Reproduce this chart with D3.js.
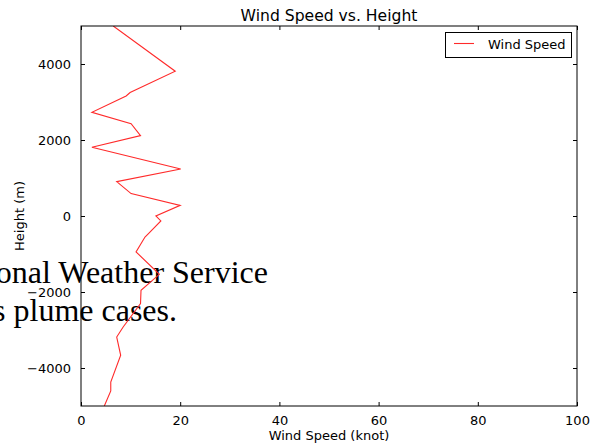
<!DOCTYPE html>
<meta charset="utf-8">
<style>
  body { margin: 0; background: #fff; }
  svg text { font-family: "DejaVu Sans", sans-serif; fill: #000; }
  .note text { font-family: "Liberation Serif", "Times New Roman", serif; font-size: 32px; }
</style>
<svg width="596" height="444"></svg>
<script src="https://d3js.org/d3.v7.min.js"></script>
<script>
  // wind profile
  var windSpeed = [6.5, 19.0, 9.9, 9.1, 2.2, 10.1, 12.0, 2.2, 20.1, 7.2, 10.1, 20.0, 15.1, 16.1, 13.6, 12.9, 11.1, 15.8, 12.1, 12.0, 8.5, 7.2, 8.0, 6.0, 6.0, 4.7];
  var height = [5000, 3810, 3250, 3160, 2730, 2430, 2115, 1810, 1235, 905, 590, 280, 0, -130, -465, -555, -945, -1535, -1955, -2305, -2920, -3185, -3665, -4370, -4605, -5000];
  var xTicks = [0, 20, 40, 60, 80, 100];
  var yTicks = [-4000, -2000, 0, 2000, 4000];
  var noteLines = ["onal Weather Service", "s plume cases."];

  var svg = d3.select("svg");
  var plotL = 81, plotR = 577, plotT = 26, plotB = 406;

  var x = d3.scaleLinear().domain([0, 100]).range([plotL, plotR]);
  var y = d3.scaleLinear().domain([-5000, 5000]).range([plotB, plotT]);

  // stray text that sits behind the chart
  var note = svg.append("g").attr("class", "note");
  note.append("text").attr("x", 268).attr("y", 283).attr("text-anchor", "end").text(noteLines[0]);
  note.append("text").attr("x", 177).attr("y", 321).attr("text-anchor", "end").text(noteLines[1]);

  svg.append("defs").append("clipPath").attr("id", "plot")
    .append("rect").attr("x", plotL).attr("y", plotT).attr("width", plotR - plotL).attr("height", plotB - plotT);

  var line = d3.line()
    .x(function(d, i) { return x(windSpeed[i]); })
    .y(function(d, i) { return y(height[i]); });

  svg.append("path")
    .datum(windSpeed)
    .attr("clip-path", "url(#plot)")
    .attr("fill", "none")
    .attr("stroke", "#ff2a2a")
    .attr("stroke-width", 1.1)
    .attr("d", line);

  // axes, ticks pointing in on all four sides
  function fmt(d) { return d < 0 ? "\u2212" + Math.abs(d) : "" + d; }

  svg.append("g").attr("transform", "translate(0," + plotB + ")")
    .call(d3.axisBottom(x).tickValues(xTicks).tickSize(-4).tickPadding(10).tickFormat(fmt));
  svg.append("g").attr("transform", "translate(0," + plotT + ")")
    .call(d3.axisTop(x).tickValues(xTicks).tickSize(-4).tickFormat(""));
  svg.append("g").attr("transform", "translate(" + plotL + ",0)")
    .call(d3.axisLeft(y).tickValues(yTicks).tickSize(-4).tickPadding(10).tickFormat(fmt));
  svg.append("g").attr("transform", "translate(" + plotR + ",0)")
    .call(d3.axisRight(y).tickValues(yTicks).tickSize(-4).tickFormat(""));

  svg.selectAll(".domain").remove();
  svg.selectAll(".tick line").attr("stroke", "#000");
  svg.selectAll(".tick text")
    .style("font-family", "DejaVu Sans, sans-serif")
    .style("font-size", "13px")
    .attr("fill", "#000");

  svg.append("rect")
    .attr("x", plotL).attr("y", plotT)
    .attr("width", plotR - plotL).attr("height", plotB - plotT)
    .attr("fill", "none").attr("stroke", "#000").attr("stroke-width", 1);

  svg.append("text")
    .attr("x", (plotL + plotR) / 2).attr("y", 21)
    .attr("text-anchor", "middle")
    .style("font-size", "15.6px")
    .text("Wind Speed vs. Height");

  svg.append("text")
    .attr("x", (plotL + plotR) / 2).attr("y", 440)
    .attr("text-anchor", "middle")
    .style("font-size", "13px")
    .text("Wind Speed (knot)");

  svg.append("text")
    .attr("transform", "translate(24," + (plotT + plotB) / 2 + ") rotate(-90)")
    .attr("text-anchor", "middle")
    .style("font-size", "13px")
    .text("Height (m)");

  // legend
  var lg = svg.append("g");
  lg.append("rect").attr("x", 445.5).attr("y", 32.5).attr("width", 126).attr("height", 25)
    .attr("fill", "#fff").attr("stroke", "#000");
  lg.append("line").attr("x1", 454).attr("x2", 474).attr("y1", 43.5).attr("y2", 43.5)
    .attr("stroke", "#ff2a2a").attr("stroke-width", 1.1);
  lg.append("text").attr("x", 488).attr("y", 49).style("font-size", "13px").text("Wind Speed");
</script>
